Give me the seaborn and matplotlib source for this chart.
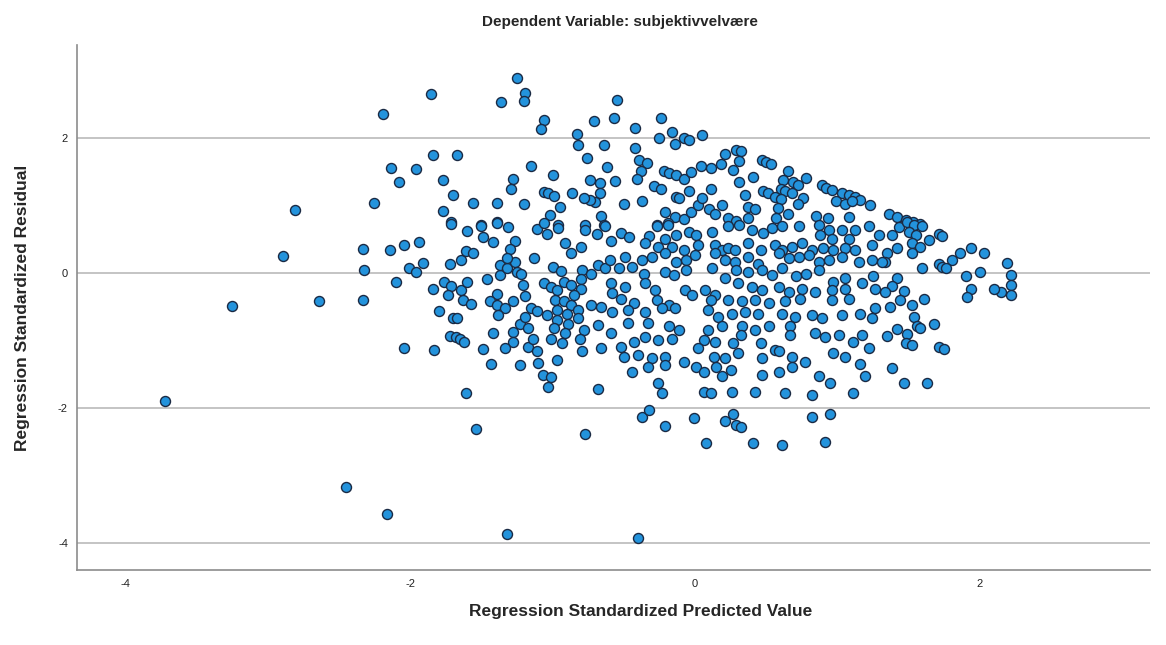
import matplotlib
matplotlib.use("Agg")
import matplotlib.pyplot as plt
import seaborn as sns
import pandas as pd

# Standardized predicted values / standardized residuals, grouped by region of the plot
outliers = [(-2.81, 0.93), (-2.89, 0.25), (-3.25, -0.49), (-2.64, -0.41), (-3.72, -1.89),
            (-2.45, -3.16), (-2.16, -3.57), (-1.32, -3.86), (-0.40, -3.92), (-1.54, -2.30),
            (-0.77, -2.38), (-1.61, -1.78), (-2.19, 2.35), (-1.85, 2.65), (-1.25, 2.88),
            (-1.19, 2.67), (-1.20, 2.54), (-1.36, 2.53)]

lower_band = [(-0.37, -2.13), (-0.32, -2.02), (-0.21, -2.27), (-0.01, -2.15), (0.08, -2.52),
              (0.21, -2.19), (0.27, -2.09), (0.29, -2.25), (0.32, -2.28), (0.41, -2.52),
              (0.61, -2.54), (0.82, -2.13), (0.95, -2.08), (0.91, -2.50)]

upper_left = [(-1.06, 2.26), (-1.08, 2.13), (-0.71, 2.25), (-0.57, 2.29), (-0.55, 2.56),
              (-0.83, 2.06), (-0.82, 1.90), (-0.64, 1.89), (-0.76, 1.70), (-0.62, 1.57),
              (-0.56, 1.36), (-0.74, 1.38), (-0.67, 1.33), (-0.67, 1.18), (-0.70, 1.05),
              (-0.74, 1.08), (-0.78, 1.11), (-0.86, 1.18), (-0.66, 0.85), (-0.95, 0.97),
              (-1.02, 0.86), (-1.00, 1.45), (-1.06, 1.20), (-1.03, 1.18), (-0.99, 1.14),
              (-1.15, 1.59), (-1.28, 1.39), (-1.29, 1.25), (-1.20, 1.02), (-1.39, 1.04),
              (-1.56, 1.04), (-1.70, 1.16), (-1.77, 1.38), (-1.77, 0.92), (-1.84, 1.75),
              (-1.67, 1.75), (-1.96, 1.54), (-2.13, 1.55), (-2.08, 1.35), (-2.25, 1.04),
              (-1.71, 0.75), (-1.50, 0.71), (-1.39, 0.75), (-0.96, 0.71), (-0.77, 0.71),
              (-0.64, 0.71)]

upper_centre = [(-0.42, 2.15), (-0.24, 2.29), (-0.25, 2.00), (-0.16, 2.08), (-0.14, 1.91),
                (-0.08, 2.00), (-0.04, 1.97), (0.05, 2.04), (-0.42, 1.85), (-0.39, 1.67),
                (-0.34, 1.63), (-0.38, 1.51), (-0.41, 1.39), (-0.50, 1.02), (-0.37, 1.06),
                (-0.22, 1.51), (-0.18, 1.48), (-0.13, 1.45), (-0.08, 1.39), (-0.03, 1.50),
                (-0.29, 1.28), (-0.24, 1.24), (-0.13, 1.13), (-0.11, 1.11), (-0.04, 1.22),
                (0.11, 1.24), (0.04, 1.59), (0.11, 1.55), (0.18, 1.62), (0.21, 1.76),
                (0.29, 1.82), (0.32, 1.80), (0.31, 1.65), (0.27, 1.52), (0.31, 1.35),
                (0.41, 1.42), (0.47, 1.67), (0.50, 1.64), (0.53, 1.61), (0.65, 1.51),
                (0.78, 1.40), (0.62, 1.38), (0.69, 1.34), (0.72, 1.30), (0.60, 1.25),
                (0.63, 1.22), (0.68, 1.18), (0.48, 1.22), (0.51, 1.19), (0.56, 1.13),
                (0.60, 1.10), (0.76, 1.11), (0.72, 1.02), (0.89, 1.30), (0.92, 1.26),
                (0.96, 1.23), (1.03, 1.19), (1.08, 1.16), (1.12, 1.13), (1.16, 1.08),
                (1.23, 1.00), (0.99, 1.07), (1.05, 1.02), (1.10, 1.06), (0.35, 1.16),
                (0.37, 0.97), (0.42, 0.95), (0.58, 0.96), (0.65, 0.88), (0.57, 0.82),
                (-0.21, 0.91), (-0.14, 0.83), (-0.08, 0.80), (-0.03, 0.91), (0.02, 1.01),
                (0.05, 1.11), (0.10, 0.94), (0.14, 0.88), (0.19, 1.01), (0.23, 0.82),
                (0.29, 0.77), (0.37, 0.81), (0.85, 0.85), (0.93, 0.81), (1.08, 0.83),
                (-0.27, 0.71), (-0.19, 0.74)]

right_edge = [(1.36, 0.88), (1.42, 0.83), (1.48, 0.78), (1.53, 0.75), (1.58, 0.73),
              (1.38, 0.56), (1.43, 0.68), (1.49, 0.76), (1.54, 0.71), (1.59, 0.69),
              (1.50, 0.60), (1.55, 0.56), (1.64, 0.49), (1.71, 0.58), (1.73, 0.55),
              (1.52, 0.44), (1.58, 0.39), (1.42, 0.37), (1.52, 0.29), (1.35, 0.29),
              (1.33, 0.17), (1.94, 0.37), (1.86, 0.29), (2.03, 0.29), (1.80, 0.19),
              (1.71, 0.13), (1.73, 0.09), (1.76, 0.07), (1.59, 0.07), (2.19, 0.15),
              (2.22, -0.03), (2.22, -0.18), (2.22, -0.33), (2.15, -0.28), (2.10, -0.24),
              (1.90, -0.04), (2.00, 0.02), (1.94, -0.24), (1.91, -0.36), (1.42, -0.08),
              (1.38, -0.19), (1.33, -0.28), (1.47, -0.26), (1.61, -0.39), (1.44, -0.40),
              (1.37, -0.50), (1.52, -0.47), (1.54, -0.65), (1.56, -0.79), (1.58, -0.82),
              (1.68, -0.76), (1.42, -0.83), (1.49, -0.90), (1.35, -0.93), (1.48, -1.04),
              (1.52, -1.07), (1.71, -1.09), (1.75, -1.12), (1.38, -1.40), (1.47, -1.63),
              (1.63, -1.63)]

middle_left = [(-1.71, 0.73), (-1.60, 0.62), (-1.50, 0.69), (-1.49, 0.54), (-1.42, 0.46),
               (-1.39, 0.74), (-1.31, 0.68), (-1.26, 0.48), (-1.30, 0.35), (-2.33, 0.35),
               (-2.14, 0.34), (-2.04, 0.41), (-1.94, 0.46), (-2.32, 0.04), (-2.01, 0.07),
               (-1.96, 0.02), (-1.91, 0.15), (-2.10, -0.14), (-2.33, -0.40), (-1.72, 0.13),
               (-1.64, 0.20), (-1.61, 0.33), (-1.56, 0.29), (-1.84, -0.23), (-1.76, -0.14),
               (-1.71, -0.19), (-1.73, -0.33), (-1.64, -0.25), (-1.60, -0.13), (-1.63, -0.40),
               (-1.57, -0.46), (-1.80, -0.56), (-1.70, -0.66), (-1.67, -0.67), (-1.72, -0.93),
               (-1.68, -0.95), (-1.65, -0.98), (-1.62, -1.02), (-2.04, -1.11), (-1.83, -1.14),
               (-1.49, -1.13), (-1.43, -1.34), (-1.46, -0.09), (-1.37, -0.03), (-1.37, 0.12),
               (-1.32, 0.07), (-1.26, 0.17), (-1.32, 0.22), (-1.25, 0.02), (-1.22, -0.01),
               (-1.21, -0.17), (-1.39, -0.31), (-1.44, -0.42), (-1.39, -0.47), (-1.33, -0.52),
               (-1.28, -0.41), (-1.38, -0.62), (-1.19, -0.34), (-1.42, -0.89), (-1.28, -0.87),
               (-1.23, -0.75), (-1.17, -0.82), (-1.19, -0.65), (-1.15, -0.52), (-1.11, -0.56),
               (-1.28, -1.02), (-1.33, -1.11), (-1.17, -1.10), (-1.14, -0.98), (-1.11, -1.15),
               (-1.23, -1.36), (-1.10, -1.33), (-1.07, -1.51), (-1.01, -1.54), (-1.03, -1.68),
               (-0.97, -1.29), (-1.13, 0.22), (-1.11, 0.65), (-1.04, 0.58), (-0.96, 0.66),
               (-1.06, 0.74), (-0.91, 0.45), (-0.87, 0.29), (-0.80, 0.38), (-0.77, 0.64),
               (-0.69, 0.58), (-0.63, 0.69), (-0.59, 0.48), (-1.00, 0.09), (-0.94, 0.03),
               (-0.79, 0.05), (-0.73, -0.01), (-0.68, 0.12), (-0.63, 0.08), (-0.60, 0.19),
               (-1.06, -0.15), (-1.01, -0.20), (-0.97, -0.25), (-0.92, -0.13), (-0.87, -0.18),
               (-0.80, -0.09), (-0.80, -0.24), (-0.59, -0.15), (-0.58, -0.30), (-0.98, -0.40),
               (-0.92, -0.42), (-0.87, -0.47), (-0.85, -0.33), (-0.97, -0.54), (-1.04, -0.62),
               (-0.97, -0.69), (-0.90, -0.60), (-0.82, -0.54), (-0.82, -0.67), (-0.73, -0.47),
               (-0.66, -0.50), (-0.58, -0.57), (-0.89, -0.75), (-0.99, -0.82), (-0.91, -0.89),
               (-0.78, -0.84), (-0.68, -0.77), (-0.59, -0.89), (-1.01, -0.97), (-0.93, -1.03),
               (-0.81, -0.98), (-0.79, -1.15), (-0.66, -1.11), (-0.68, -1.71)]

core_upper = [(-0.27, 0.69), (-0.19, 0.71), (-0.52, 0.59), (-0.46, 0.54), (-0.32, 0.55),
              (-0.21, 0.51), (-0.13, 0.56), (-0.04, 0.61), (0.01, 0.56), (0.12, 0.61),
              (0.23, 0.69), (0.31, 0.71), (0.40, 0.64), (0.48, 0.59), (0.54, 0.66),
              (0.61, 0.69), (0.73, 0.69), (0.87, 0.71), (0.94, 0.64), (1.03, 0.64),
              (1.12, 0.64), (1.22, 0.69), (1.29, 0.56), (0.88, 0.56), (0.96, 0.51),
              (1.08, 0.51), (-0.35, 0.44), (-0.26, 0.39), (-0.16, 0.39), (-0.08, 0.34),
              (0.02, 0.41), (0.14, 0.41), (0.19, 0.34), (0.23, 0.37), (0.28, 0.34),
              (0.37, 0.44), (0.46, 0.34), (0.56, 0.41), (0.61, 0.34), (0.68, 0.39),
              (0.75, 0.44), (0.82, 0.34), (0.90, 0.37), (0.97, 0.34), (1.05, 0.37),
              (1.12, 0.34), (1.24, 0.41), (-0.49, 0.24), (-0.37, 0.19), (-0.30, 0.24),
              (-0.21, 0.29), (-0.13, 0.17), (-0.06, 0.19), (0.00, 0.27), (0.14, 0.29),
              (0.21, 0.19), (0.28, 0.17), (0.37, 0.24), (0.44, 0.14), (0.59, 0.29),
              (0.66, 0.22), (0.73, 0.24), (0.80, 0.27), (0.87, 0.17), (0.94, 0.19),
              (1.03, 0.24), (1.15, 0.17), (1.24, 0.19), (1.31, 0.17)]

core_middle = [(-0.53, 0.07), (-0.44, 0.09), (-0.36, -0.01), (-0.21, 0.02), (-0.15, -0.03),
               (-0.06, 0.04), (0.12, 0.07), (0.21, -0.08), (0.29, 0.04), (0.37, 0.02),
               (0.47, 0.04), (0.54, -0.03), (0.61, 0.07), (0.71, -0.05), (0.78, -0.01),
               (0.87, 0.04), (0.97, -0.13), (1.05, -0.08), (1.17, -0.15), (1.25, -0.05),
               (-0.49, -0.20), (-0.35, -0.15), (-0.28, -0.25), (-0.07, -0.25), (0.07, -0.25),
               (0.14, -0.33), (0.30, -0.15), (0.40, -0.20), (0.47, -0.25), (0.59, -0.20),
               (0.66, -0.28), (0.75, -0.23), (0.84, -0.28), (0.96, -0.25), (1.05, -0.23),
               (1.26, -0.23), (-0.52, -0.38), (-0.43, -0.45), (-0.27, -0.40), (-0.18, -0.47),
               (-0.02, -0.33), (0.11, -0.40), (0.23, -0.40), (0.33, -0.42), (0.42, -0.40),
               (0.52, -0.45), (0.63, -0.42), (0.74, -0.38), (0.96, -0.40), (1.08, -0.38),
               (1.26, -0.52), (-0.47, -0.55), (-0.35, -0.57), (-0.23, -0.52), (-0.14, -0.52),
               (0.09, -0.55), (0.16, -0.65), (0.26, -0.60), (0.35, -0.57), (0.44, -0.60),
               (0.61, -0.60), (0.70, -0.65), (0.82, -0.62), (0.89, -0.67), (1.03, -0.62),
               (1.16, -0.60), (1.24, -0.67)]

core_lower = [(-0.47, -0.74), (-0.33, -0.74), (-0.18, -0.79), (-0.11, -0.84), (0.09, -0.84),
              (0.19, -0.79), (0.33, -0.79), (0.42, -0.84), (0.52, -0.79), (0.67, -0.79),
              (0.84, -0.89), (0.91, -0.94), (1.01, -0.92), (1.17, -0.92), (-0.52, -1.09),
              (-0.43, -1.02), (-0.35, -0.94), (-0.26, -0.99), (-0.16, -0.97), (0.06, -0.99),
              (0.14, -1.02), (0.27, -1.04), (0.32, -0.92), (0.46, -1.04), (0.56, -1.14),
              (0.67, -0.92), (1.11, -1.02), (1.22, -1.11), (-0.50, -1.24), (-0.40, -1.21),
              (-0.30, -1.26), (-0.21, -1.24), (-0.08, -1.31), (0.02, -1.11), (0.13, -1.24),
              (0.21, -1.26), (0.30, -1.19), (0.47, -1.26), (0.59, -1.16), (0.68, -1.24),
              (0.77, -1.31), (0.97, -1.19), (1.05, -1.24), (1.16, -1.34), (-0.44, -1.46),
              (-0.33, -1.39), (-0.21, -1.36), (0.01, -1.39), (0.06, -1.46), (0.15, -1.39),
              (0.25, -1.44), (0.47, -1.51), (0.59, -1.46), (0.68, -1.39), (0.87, -1.53),
              (0.95, -1.63), (1.19, -1.53), (-0.26, -1.63), (-0.23, -1.78), (0.06, -1.76),
              (0.11, -1.78), (0.26, -1.76), (0.42, -1.76), (0.63, -1.78), (0.82, -1.81),
              (1.11, -1.78), (0.19, -1.53)]

groups = [outliers, lower_band, upper_left, upper_centre, right_edge,
          middle_left, core_upper, core_middle, core_lower]
points = [p for g in groups for p in g]
df = pd.DataFrame(points, columns=["predicted", "residual"])

sns.set_style("white")
plt.rcParams["font.family"] = ["Liberation Sans", "DejaVu Sans"]
plt.rcParams["axes.unicode_minus"] = False

fig = plt.figure(figsize=(11.66, 6.45), dpi=100)
ax = fig.add_axes([77 / 1166, 75 / 645, (1150 - 77) / 1166, (570 - 45) / 645])

ax.set_xlim(-4.337, 3.193)
ax.set_ylim(-4.393, 3.373)
ax.set_xticks([-4, -2, 0, 2])
ax.set_yticks([-4, -2, 0, 2])
ax.yaxis.grid(True, color="#c4c4c4", linewidth=1.4)
ax.xaxis.grid(False)
ax.set_axisbelow(True)

sns.scatterplot(data=df, x="predicted", y="residual", ax=ax, s=52,
                color="#2393dc", edgecolor="#1a2a44", linewidth=1.0, zorder=3)

for side in ["top", "right"]:
    ax.spines[side].set_visible(False)
for side in ["left", "bottom"]:
    ax.spines[side].set_color("#8c8c8c")
    ax.spines[side].set_linewidth(1.2)

ax.tick_params(axis="both", labelsize=8, labelcolor="#222222", length=3,
               width=0.8, direction="out", color="#8c8c8c")
ax.set_xlabel("Regression Standardized Predicted Value", fontsize=12.5,
              fontweight="bold")
ax.set_ylabel("Regression Standardized Residual", fontsize=12.5,
              fontweight="bold")
ax.xaxis.set_label_coords(0.525, -0.065)
ax.yaxis.set_label_coords(-0.044, 0.5)

fig.text(0.532, 1 - 22 / 645, "Dependent Variable: subjektivvelvære",
         ha="center", va="center", fontsize=11, fontweight="bold")

fig.savefig("out.png", dpi=100, facecolor="white")
